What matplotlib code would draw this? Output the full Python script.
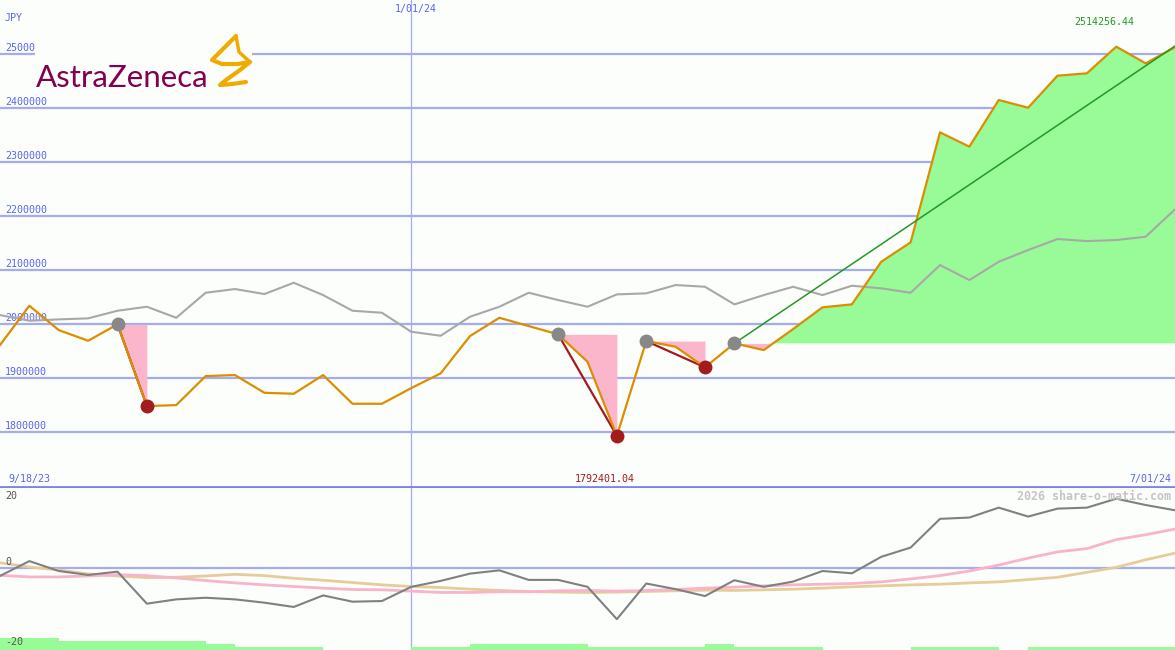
import numpy as np
import matplotlib.pyplot as plt

# weekly closes (JPY), 41 weeks
price = [1960600, 2033300, 1988300, 1968500, 1998900, 1847600, 1849400, 1903100,
         1905000, 1872200, 1870400, 1905000, 1851900, 1851900, 1880900, 1908100,
         1977200, 2011100, 1995700, 1980400, 1929600, 1792401, 1968000, 1957400,
         1919300, 1963700, 1951300, 1990200, 2030400, 2035900, 2114800, 2150700,
         2354400, 2327800, 2414300, 2400000, 2459300, 2463700, 2513000, 2482200,
         2511900]
bench = [2016100, 2005600, 2008100, 2010000, 2024100, 2031500, 2011100, 2057400,
         2064300, 2055000, 2075900, 2053100, 2024100, 2020400, 1985200, 1977800,
         2013000, 2031500, 2057400, 2043900, 2031500, 2054400, 2056300, 2071700,
         2068500, 2035900, 2053100, 2068500, 2053100, 2070400, 2065600, 2057400,
         2108700, 2080900, 2114800, 2136500, 2156900, 2153100, 2155000, 2161100,
         2211800]
# lower panel (%)
rel = [-2.5, 2.0, -1.0, -2.2, -1.2, -10.9, -9.6, -9.1, -9.6, -10.6, -11.9, -8.4,
       -10.3, -10.1, -5.8, -4.0, -1.8, -0.8, -3.7, -3.7, -5.8, -15.6, -4.8, -6.5,
       -8.6, -3.8, -5.8, -4.2, -1.0, -1.7, 3.3, 6.1, 14.8, 15.2, 18.2, 15.5, 17.9,
       18.2, 20.9, 19.0, 17.4]
avg_fast = [-2.3, -2.8, -2.8, -2.5, -2.1, -2.4, -3.1, -3.9, -4.6, -5.2, -5.7, -6.2,
            -6.6, -6.7, -7.1, -7.5, -7.5, -7.3, -7.3, -7.0, -6.9, -7.1, -6.9, -6.6,
            -6.2, -5.9, -5.5, -5.2, -5.0, -4.8, -4.3, -3.4, -2.4, -1.0, 0.8, 2.9,
            4.8, 5.8, 8.5, 10.0, 11.7]
avg_slow = [1.5, 0.2, -0.7, -1.9, -2.5, -3.0, -2.9, -2.5, -2.0, -2.4, -3.2, -3.8,
            -4.5, -5.2, -5.7, -6.0, -6.5, -6.9, -7.2, -7.4, -7.5, -7.4, -7.2, -7.0,
            -6.8, -6.9, -6.7, -6.5, -6.2, -5.8, -5.5, -5.2, -5.0, -4.6, -4.3, -3.6,
            -2.9, -1.4, 0.1, 2.4, 4.4]
volume = [3.6, 3.6, 2.7, 2.7, 2.7, 2.7, 2.7, 1.9, 0.9, 0.9, 0.9, 0, 0, 0, 0.9, 0.9,
          1.9, 1.9, 1.9, 1.9, 0.9, 0.9, 0.9, 0.9, 1.9, 0.9, 0.9, 0.9, 0, 0, 0, 0.9,
          0.9, 0.9, 0, 0.9, 0.9, 0.9, 0.9, 0.9]
grid_vals = [1800000, 1900000, 2000000, 2100000, 2200000, 2300000, 2400000, 2500000]
grid_labels = ['1800000', '1900000', '2000000', '2100000', '2200000', '2300000',
               '2400000', '2500000']
drops = [(4, 5), (19, 21), (22, 24)]
signal = 25
target = 2514256.44
jan_idx = 14

W, H = 1175, 650
bg = '#fcfefc'
gridc = '#a4acf0'
blue = '#5a64f0'
orange = '#dc8e00'
darkred = '#a31c1c'
pink = '#fbb6cc'
green = '#98fb98'
mono = 'DejaVu Sans Mono'


def box(x0, y0, x1, y1):
    return [x0 / W, 1 - y1 / H, (x1 - x0) / W, (y1 - y0) / H]


def ftext(x, y, s, **kw):
    fig.text(x / W, 1 - y / H, s, va='center', family=mono, fontsize=7.2, **kw)


fig = plt.figure(figsize=(11.75, 6.5), dpi=100)
fig.patch.set_facecolor(bg)
ax = fig.add_axes(box(0, 0, 1175, 487))
axb = fig.add_axes(box(0, 488, 1175, 650))
x = np.arange(len(price))

# ---- top panel
ax.set_facecolor(bg)
ax.set_xlim(0, 40)
ax.set_ylim(1697759, 2599444)
for v, lbl in zip(grid_vals, grid_labels):
    ax.axhline(v, color=gridc, lw=1.6, zorder=1)
    ax.annotate(lbl, xy=(0, v), xycoords=('axes fraction', 'data'), xytext=(5, 1),
                textcoords='offset pixels', va='bottom', color=blue,
                family=mono, fontsize=7.2)
ax.axvline(jan_idx, color=gridc, lw=0.9, zorder=1)

ax.plot(x, bench, color='#a8a8a8', lw=1.5, zorder=4)

price = np.array(price)
for a, b in drops:
    xs = x[a:b + 1]
    ax.fill_between(xs, price[a:b + 1], price[a], color=pink, lw=0, zorder=2)
    ax.plot([a, b], [price[a], price[b]], color=darkred, lw=1.6, zorder=5)

xs = x[signal:]
base = price[signal]
ax.fill_between(xs, price[signal:], base, where=price[signal:] < base,
                interpolate=True, color=pink, lw=0, zorder=2)
ax.fill_between(xs, price[signal:], base, where=price[signal:] >= base,
                interpolate=True, color=green, lw=0, zorder=3)

ax.plot(x, price, color=orange, lw=1.6, zorder=6)
ax.plot([signal, x[-1]], [base, target], color='#229922', lw=1.1, zorder=7)

starts = [a for a, b in drops] + [signal]
ends = [b for a, b in drops]
ax.plot(x[starts], price[starts], 'o', ms=9, color='#888888', zorder=8)
ax.plot(x[ends], price[ends], 'o', ms=9, color=darkred, zorder=8)

ax.set_xticks([])
ax.set_yticks([])
for s in ['top', 'left', 'right']:
    ax.spines[s].set_visible(False)
ax.spines['bottom'].set_color('#7a84ec')
ax.spines['bottom'].set_linewidth(2)

# ---- bottom panel
axb.set_facecolor(bg)
axb.set_xlim(0, 40)
axb.set_ylim(-24.94, 24.15)
axb.axhline(0, color=gridc, lw=1.6, zorder=1)
axb.axvline(jan_idx, color=gridc, lw=0.9, zorder=1)
axb.bar(np.arange(len(volume)), volume, width=1, align='edge', bottom=-24.94,
        color=green, lw=0, zorder=2)
axb.plot(x, avg_slow, color='#e6cc9c', lw=2, zorder=3)
axb.plot(x, avg_fast, color='#f8b4c8', lw=2, zorder=3)
axb.plot(x, rel, color='#808080', lw=1.5, zorder=4)
axb.set_xticks([])
axb.set_yticks([])
for s in axb.spines.values():
    s.set_visible(False)

# ---- labels
ftext(5, 18, 'JPY', color=blue)
ftext(395, 9, '1/01/24', color=blue)
ftext(1134, 22, '2514256.44', color='#229922', ha='right')
ftext(8, 479, '9/18/23', color=blue)
ftext(605, 479, '1792401.04', color=darkred, ha='center')
ftext(1171, 479, '7/01/24', color=blue, ha='right')
ftext(5, 496, '20', color='#555555')
ftext(5, 562, '0', color='#555555')
ftext(5, 642, '-20', color='#555555')
fig.text(1171 / W, 1 - 496 / H, '2026 share-o-matic.com', va='center', ha='right',
         family=mono, fontsize=8.4, fontweight='bold', color='#c4c4c4')

# ---- logo
lg = fig.add_axes(box(35, 32, 252, 92))
lg.set_facecolor(bg)
lg.set_xlim(35, 252)
lg.set_ylim(92, 32)
lg.set_xticks([])
lg.set_yticks([])
for s in lg.spines.values():
    s.set_visible(False)
lg.text(36, 87, 'AstraZeneca', color='#830051', family='Lato', fontsize=22.5,
        va='baseline', ha='left')
lg.plot([236, 226, 212, 222, 238, 250, 240, 226, 220, 232, 246],
        [36, 46, 60, 64, 64, 62, 70, 80, 85, 84, 82],
        color='#f0ab00', lw=3, solid_joinstyle='round', solid_capstyle='round')
lg.plot([236, 239, 250], [36, 52, 62], color='#f0ab00', lw=2.5,
        solid_joinstyle='round', solid_capstyle='round')

fig.savefig('out.png', dpi=100, facecolor=bg)
